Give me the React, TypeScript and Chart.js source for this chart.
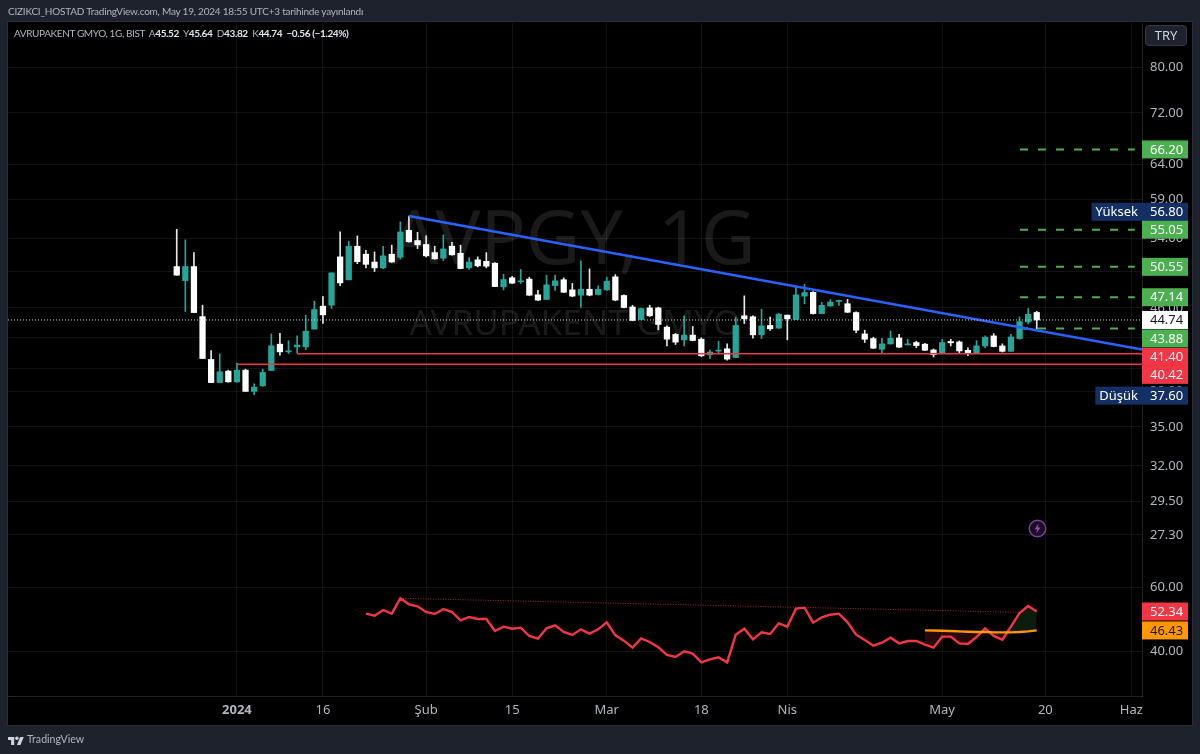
import React, { useEffect, useRef } from "react";
import Chart from "chart.js/auto";

// ---- Candles (daily, index 0 = first visible bar) ----
const opens = [50.58,48.98,50.58,45.09,40.86,38.75,39.78,38.81,39.87,37.97,38.46,39.84,42.32,41.58,42.06,42.06,43.81,46.18,46.29,51.72,49.06,53.00,52.04,51.11,50.43,52.04,51.68,54.98,53.70,53.21,52.23,51.56,53.00,52.15,50.43,51.37,51.19,50.97,48.28,49.29,48.84,49.14,47.40,46.90,48.42,49.07,47.94,47.36,48.01,47.44,47.94,49.40,47.33,46.10,44.79,46.00,46.00,44.01,43.28,42.74,43.21,42.81,41.30,41.65,41.87,41.04,45.17,45.07,43.24,44.18,43.91,45.24,44.79,47.26,47.67,45.40,46.20,46.69,46.44,45.51,43.33,42.87,41.83,42.35,42.93,42.25,42.48,42.32,41.76,41.47,42.58,42.54,41.73,41.47,42.15,43.13,42.15,41.63,42.87,44.54,45.52];
const highs = [55.11,53.78,52.23,46.29,41.71,41.39,39.87,40.51,39.96,38.63,39.96,43.33,43.40,42.65,43.14,45.23,46.71,47.22,49.86,54.77,53.62,54.27,52.51,52.31,53.00,53.13,56.05,56.80,54.73,54.27,53.00,54.40,53.49,53.13,51.64,51.72,52.23,51.05,49.70,49.47,50.24,49.36,47.90,49.59,49.59,49.29,48.65,51.25,50.31,48.39,49.36,49.66,47.40,46.28,45.97,46.28,46.07,44.14,43.38,45.17,44.08,42.94,41.74,42.61,42.35,45.03,47.29,45.17,45.86,45.03,45.41,45.24,48.31,48.57,47.75,46.59,46.88,46.84,46.91,45.58,43.70,43.00,42.90,43.62,43.29,42.80,42.61,42.41,41.86,42.80,42.80,42.64,41.96,42.67,43.13,43.36,42.35,43.29,45.05,45.93,45.64];
const lows = [49.59,45.62,45.51,40.95,38.75,38.75,38.78,38.75,37.97,37.68,38.40,39.84,41.27,41.42,41.46,41.80,43.81,44.38,45.94,48.42,49.06,50.92,50.43,50.01,50.35,51.07,51.44,53.49,52.71,51.72,51.44,51.29,51.92,50.31,50.24,50.54,50.43,48.31,47.94,48.65,48.65,47.33,46.76,46.90,47.87,47.65,47.18,46.04,47.29,47.40,47.87,46.76,46.00,44.65,44.76,45.10,43.74,42.16,42.29,42.16,42.64,41.14,40.95,41.43,40.80,41.04,44.38,42.91,42.87,43.67,43.87,42.74,44.79,46.42,45.33,45.40,46.17,46.27,45.51,43.46,42.48,41.89,41.50,42.32,41.99,42.25,41.99,41.70,41.09,41.47,42.15,41.50,41.22,41.47,41.96,42.06,41.56,41.63,42.80,44.34,43.82];
const closes = [49.59,50.58,45.51,40.95,38.75,39.72,38.81,39.87,37.97,38.34,39.66,42.16,41.58,41.68,42.23,43.60,45.83,45.27,49.86,48.72,53.00,51.15,50.84,50.43,51.84,51.11,54.77,53.54,53.17,51.84,51.48,52.67,51.96,50.35,51.11,50.66,50.62,48.31,49.10,48.69,48.91,47.36,46.83,48.50,48.95,47.68,47.26,48.01,47.36,48.01,48.91,46.83,46.04,44.69,45.93,45.17,44.28,42.81,42.52,43.21,42.68,41.20,41.56,41.74,40.89,44.18,44.86,43.24,44.14,43.84,45.34,44.86,47.40,47.65,45.40,46.27,46.62,46.80,45.54,43.70,42.80,41.93,42.35,42.90,42.03,42.35,42.19,41.73,41.31,42.48,42.45,41.67,41.47,42.15,43.00,42.09,41.63,43.03,44.57,45.33,44.74];

// ---- Indicator (first value belongs to bar rsiStart) ----
const rsiStart = 22;
const rsiValues = [51.67,51.04,52.81,51.67,56.46,54.58,53.96,52.19,51.56,53.13,52.19,49.58,50.63,50.00,50.00,46.25,47.60,46.98,47.29,44.69,43.85,47.08,48.02,45.94,45.00,46.77,45.42,46.77,48.96,44.90,43.23,41.04,43.96,42.81,41.15,38.75,38.13,39.90,39.17,36.46,37.40,38.02,36.46,45.10,46.98,43.65,45.83,45.31,48.65,47.60,53.23,53.54,48.85,50.52,51.35,51.67,48.96,45.10,43.44,41.67,42.60,44.17,42.40,43.13,43.13,41.98,41.04,44.48,44.48,42.40,42.19,44.38,47.08,44.69,43.54,47.60,51.88,54.06,52.34];
const maStart = 87;
const maValues = [46.46,46.41,46.35,46.25,46.15,46.04,45.94,45.94,45.83,45.83,45.83,45.94,46.15,46.43];

// ---- Drawings ----
const lastPrice = 44.74;
const supportLevels = [{ from: 14, price: 41.40 }, { from: 7, price: 40.42 }];
const targetLevels = [66.20, 55.05, 50.55, 47.14, 43.88];
const targetSpan = [98.06, 111.4];
const trendLine = [{ x: 27, y: 56.80 }, { x: 112.24, y: 41.80 }];
const rsiTrend = [{ x: 26, y: 56.46 }, { x: 98, y: 52.08 }];

// ---- Axes ----
const priceTicks = [80, 72, 64, 59, 54, 50, 46, 43, 40, 38, 35, 32, 29.5, 27.3];
const rsiTicks = [60, 40];
const timeTickIndex = [7, 17, 29, 39, 50, 61, 71, 89, 101, 111];
const timeTickLabels = ["2024", "16", "Şub", "15", "Mar", "18", "Nis", "May", "20", "Haz"];

const priceBadges = [
  { value: 66.20, text: "66.20", bg: "#4caf50", fg: "#ffffff", shift: 0 },
  { value: 56.80, text: "56.80", bg: "#132f63", fg: "#ffffff", shift: -4.3, tag: "Yüksek" },
  { value: 55.05, text: "55.05", bg: "#4caf50", fg: "#ffffff", shift: 0 },
  { value: 50.55, text: "50.55", bg: "#4caf50", fg: "#ffffff", shift: 0 },
  { value: 47.14, text: "47.14", bg: "#4caf50", fg: "#ffffff", shift: 0 },
  { value: 44.74, text: "44.74", bg: "#ffffff", fg: "#131722", shift: 0 },
  { value: 43.88, text: "43.88", bg: "#4caf50", fg: "#ffffff", shift: 10 },
  { value: 41.40, text: "41.40", bg: "#f23645", fg: "#ffffff", shift: 3.2 },
  { value: 40.42, text: "40.42", bg: "#f23645", fg: "#ffffff", shift: 10.7 },
  { value: 37.60, text: "37.60", bg: "#132f63", fg: "#ffffff", shift: 0, tag: "Düşük" },
];
const rsiBadges = [
  { value: 52.34, text: "52.34", bg: "#f23645", fg: "#ffffff", shift: 0 },
  { value: 46.43, text: "46.43", bg: "#ff9800", fg: "#131722", shift: 0 },
];

const FONT = '"Noto Sans", sans-serif';
const NARROW = 'Lato, sans-serif';
const PAGE = "#1e222d";
const GRID = "rgba(255,255,255,0.07)";
const EDGE = "rgba(255,255,255,0.13)";
const TEAL = "#26a69a";
const RED = "#f23645";

const idx = opens.map((_, i) => i);
const isUp = (i: number) => closes[i] >= opens[i];
const xMin = -19.62;
const xMax = 112.24;

const framePlugin = {
  id: "frame",
  beforeDraw(chart: any) {
    const { ctx, width, height, chartArea } = chart;
    ctx.save();
    ctx.fillStyle = PAGE;
    ctx.fillRect(0, 0, width, height);
    ctx.fillStyle = "#000000";
    ctx.fillRect(chartArea.left, chartArea.top - 1, chart.scales.y.right - chartArea.left, height - 29 - chartArea.top + 1);
    ctx.strokeStyle = "#2a2e39";
    ctx.lineWidth = 1;
    ctx.strokeRect(chartArea.left - 0.5, chartArea.top - 1.5, chart.scales.y.right - chartArea.left + 1, height - 29 - chartArea.top + 2);
    ctx.restore();
  },
  beforeDatasetsDraw(chart: any) {
    const { ctx, chartArea } = chart;
    const cx = (chartArea.left + chartArea.right) / 2;
    ctx.save();
    ctx.textAlign = "center";
    ctx.textBaseline = "middle";
    ctx.fillStyle = "rgba(255,255,255,0.10)";
    ctx.font = `75px ${FONT}`;
    ctx.fillText("AVPGY, 1G", cx - 2, 243);
    ctx.font = `35px ${FONT}`;
    ctx.fillText("AVRUPAKENT GMYO", cx, 325);
    ctx.restore();
  },
  afterDraw(chart: any) {
    const { ctx } = chart;
    const left = chart.scales.y.left;
    const drawBadges = (list: any[], scale: any) => {
      list.forEach((b) => {
        const cy = scale.getPixelForValue(b.value) + b.shift;
        ctx.font = `13px ${FONT}`;
        ctx.textBaseline = "middle";
        if (b.tag) {
          const tw = ctx.measureText(b.tag).width + 8;
          ctx.fillStyle = b.bg;
          ctx.fillRect(left - tw, cy - 9, tw, 18);
          ctx.fillStyle = b.fg;
          ctx.textAlign = "center";
          ctx.fillText(b.tag, left - tw / 2, cy + 0.5);
        }
        ctx.fillStyle = b.bg;
        ctx.fillRect(left, cy - 9, 46, 18);
        ctx.fillStyle = b.fg;
        ctx.textAlign = "left";
        ctx.fillText(b.text, left + 8, cy + 0.5);
      });
    };
    ctx.save();
    drawBadges(priceBadges, chart.scales.y);
    drawBadges(rsiBadges, chart.scales.rsi);
    ctx.restore();
  },
};

export default function App() {
  const ref = useRef<HTMLCanvasElement | null>(null);

  useEffect(() => {
    document.body.style.background = PAGE;
    const lineBase = { type: "line", pointRadius: 0, pointHoverRadius: 0, tension: 0, fill: false };
    const datasets: any[] = [
      {
        type: "bar",
        label: "Fitil",
        data: idx.map((i) => ({ x: i, y: [lows[i], highs[i]] })),
        backgroundColor: idx.map((i) => (isUp(i) ? TEAL : "#e8e8e8")),
        barThickness: 1,
        grouped: false,
        order: 20,
        xAxisID: "x",
        yAxisID: "y",
      },
      {
        type: "bar",
        label: "Gövde",
        data: idx.map((i) => ({ x: i, y: [opens[i], closes[i]] })),
        backgroundColor: idx.map((i) => (isUp(i) ? TEAL : "#ffffff")),
        barThickness: 5.6,
        minBarLength: 1,
        grouped: false,
        order: 19,
        xAxisID: "x",
        yAxisID: "y",
      },
      ...supportLevels.map((l) => ({
        ...lineBase,
        label: `Destek ${l.price}`,
        data: [{ x: l.from, y: l.price }, { x: xMax, y: l.price }],
        borderColor: RED,
        borderWidth: 1.5,
        order: 10,
        xAxisID: "x",
        yAxisID: "y",
      })),
      ...targetLevels.map((p) => ({
        ...lineBase,
        label: `Hedef ${p}`,
        data: targetSpan.map((x) => ({ x, y: p })),
        borderColor: "#4caf50",
        borderWidth: 2,
        borderDash: [8, 10],
        order: 9,
        xAxisID: "x",
        yAxisID: "y",
      })),
      {
        ...lineBase,
        label: "Trend",
        data: trendLine,
        borderColor: "#2962ff",
        borderWidth: 2.5,
        order: 8,
        xAxisID: "x",
        yAxisID: "y",
      },
      {
        ...lineBase,
        label: "Son fiyat",
        data: [{ x: xMin, y: lastPrice }, { x: xMax, y: lastPrice }],
        borderColor: "#d8d8d8",
        borderWidth: 1,
        borderDash: [1, 2],
        order: 7,
        xAxisID: "x",
        yAxisID: "y",
      },
      {
        ...lineBase,
        label: "RSI trend",
        data: rsiTrend,
        borderColor: "rgba(242,54,69,0.7)",
        borderWidth: 1,
        borderDash: [1, 1.5],
        order: 6,
        xAxisID: "x",
        yAxisID: "rsi",
      },
    ];
    const maIndex = datasets.length;
    datasets.push({
      ...lineBase,
      label: "RSI MA",
      data: maValues.map((y, i) => ({ x: maStart + i, y })),
      borderColor: "#ff9800",
      borderWidth: 2.4,
      order: 3,
      xAxisID: "x",
      yAxisID: "rsi",
    });
    datasets.push({
      ...lineBase,
      label: "RSI dolgu",
      data: maValues.map((_, i) => ({ x: maStart + i, y: rsiValues[maStart - rsiStart + i] })),
      borderWidth: 0,
      borderColor: "rgba(0,0,0,0)",
      fill: { target: maIndex, above: "rgba(76,175,80,0.16)", below: "rgba(242,54,69,0.16)" },
      order: 5,
      xAxisID: "x",
      yAxisID: "rsi",
    });
    datasets.push({
      ...lineBase,
      label: "RSI",
      data: rsiValues.map((y, i) => ({ x: rsiStart + i, y })),
      borderColor: "#f23645",
      borderWidth: 2.4,
      order: 4,
      xAxisID: "x",
      yAxisID: "rsi",
    });

    const tickStyle = { color: "#b2b5be", font: { family: FONT, size: 13 } };
    const chart = new Chart(ref.current as HTMLCanvasElement, {
      type: "bar",
      data: { datasets },
      plugins: [framePlugin],
      options: {
        animation: false,
        responsive: false,
        devicePixelRatio: 1,
        layout: { padding: { left: 8, top: 23, right: 8, bottom: 29 } },
        plugins: { legend: { display: false }, tooltip: { enabled: false } },
        scales: {
          x: {
            type: "linear",
            min: xMin,
            max: xMax,
            offset: false,
            grid: { color: GRID, drawTicks: false, offset: false },
            border: { color: EDGE },
            afterBuildTicks: (s: any) => {
              s.ticks = timeTickIndex.map((value) => ({ value }));
            },
            afterFit: (s: any) => {
              s.height = 29;
            },
            ticks: {
              ...tickStyle,
              autoSkip: false,
              maxRotation: 0,
              padding: 6,
              callback: (v: any) => timeTickLabels[timeTickIndex.indexOf(Number(v))] ?? "",
              font: (c: any) => ({
                family: FONT,
                size: 13,
                weight: c.tick && c.tick.value === timeTickIndex[0] ? "bold" : "normal",
              }),
            },
          },
          y: {
            type: "logarithmic",
            position: "right",
            stack: "panes",
            stackWeight: 516,
            weight: 1,
            min: 27.05,
            max: 88.51,
            grid: { color: GRID, drawTicks: false },
            border: { color: EDGE },
            afterBuildTicks: (s: any) => {
              s.ticks = priceTicks.map((value) => ({ value }));
            },
            afterFit: (s: any) => {
              s.width = 50;
            },
            ticks: {
              ...tickStyle,
              autoSkip: false,
              padding: 8,
              callback: (v: any) => Number(v).toFixed(2),
            },
          },
          rsi: {
            type: "linear",
            position: "right",
            stack: "panes",
            stackWeight: 157,
            weight: 2,
            min: 25.94,
            max: 75,
            grid: { color: GRID, drawTicks: false },
            border: { color: EDGE },
            afterBuildTicks: (s: any) => {
              s.ticks = rsiTicks.map((value) => ({ value }));
            },
            afterFit: (s: any) => {
              s.width = 50;
            },
            ticks: {
              ...tickStyle,
              autoSkip: false,
              padding: 8,
              callback: (v: any) => Number(v).toFixed(2),
            },
          },
        },
      } as any,
    } as any);
    return () => chart.destroy();
  }, []);

  const abs = (left: number, top: number): React.CSSProperties => ({
    position: "fixed",
    left,
    top,
    fontFamily: NARROW,
    whiteSpace: "pre",
    lineHeight: 1,
  });

  return (
    <div>
      <canvas ref={ref} width={1200} height={754} style={{ position: "fixed", left: 0, top: 0, display: "block" }} />
      <div style={{ ...abs(8, 6), fontSize: 10, letterSpacing: "-0.22px", color: "#b2b5be" }}>
        CIZIKCI_HOSTAD TradingView.com, May 19, 2024 18:55 UTC+3 tarihinde yayınlandı
      </div>
      <div style={{ ...abs(14, 28), fontSize: 10, letterSpacing: "-0.38px", color: "#b2b5be" }}>
        AVRUPAKENT GMYO, 1G, BIST{"  "}A<b style={{ color: "#e0e3eb" }}>45.52</b>{"  "}Y<b style={{ color: "#e0e3eb" }}>45.64</b>{"  "}D<b style={{ color: "#e0e3eb" }}>43.82</b>{"  "}K<b style={{ color: "#e0e3eb" }}>44.74</b>{"  "}<b style={{ color: "#e0e3eb" }}>−0.56 (−1.24%)</b>
      </div>
      <div
        style={{
          ...abs(1145, 25),
          width: 42,
          height: 21,
          boxSizing: "border-box",
          background: "#1e222d",
          border: "1px solid #363a45",
          borderRadius: 4,
          color: "#d1d4dc",
          fontFamily: FONT,
          fontSize: 13,
          textAlign: "center",
          lineHeight: "19px",
        }}
      >
        TRY
      </div>
      <svg style={{ position: "fixed", left: 1028, top: 519 }} width={19} height={19} viewBox="0 0 19 19">
        <circle cx={9.5} cy={9.5} r={8.3} fill="#1c0f24" stroke="#7b3fa6" strokeWidth={1.4} />
        <path d="M10.8 4.5 6.6 10.3h2.6l-1 4.2 4.2-5.9H9.8z" fill="#9c4dcc" />
      </svg>
      <svg style={{ position: "fixed", left: 8, top: 735 }} width={16} height={11} viewBox="0 0 36 24">
        <path d="M14 22H7V11H0V4h14v18zM28 22h-8l7.5-18h8L28 22z" fill="#d1d4dc" />
        <circle cx={20} cy={7} r={4} fill="#d1d4dc" />
      </svg>
      <div style={{ ...abs(27, 734), fontSize: 10.6, color: "#b2b5be" }}>TradingView</div>
    </div>
  );
}
